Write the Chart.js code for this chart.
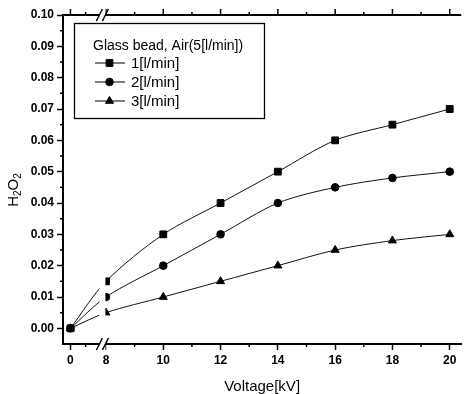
<!DOCTYPE html>
<html>
<head>
<meta charset="utf-8">
<script src="https://cdn.jsdelivr.net/npm/chart.js@4"></script>
<style>
  html, body { margin: 0; padding: 0; background: #fff; }
  #wrap { width: 467px; height: 394px; }
</style>
</head>
<body>
<div id="wrap"><canvas id="chart" width="467" height="394"></canvas></div>
<script>
// voltage (kV) and H2O2 readings for each flow rate
const voltages = [0, 8, 10, 12, 14, 16, 18, 20];
const flow1 = [0, 0.015, 0.030, 0.040, 0.050, 0.060, 0.065, 0.070];
const flow2 = [0, 0.010, 0.020, 0.030, 0.040, 0.045, 0.048, 0.050];
const flow3 = [0, 0.005, 0.010, 0.015, 0.020, 0.025, 0.028, 0.030];

const seriesNames = ['1[l/min]', '2[l/min]', '3[l/min]'];
const legendTitle = 'Glass bead, Air(5[l/min])';

const xTickLabels = ['0', '8', '10', '12', '14', '16', '18', '20'];
const yTickValues = [0, 0.01, 0.02, 0.03, 0.04, 0.05, 0.06, 0.07, 0.08, 0.09, 0.10];
const yTickLabels = ['0.00', '0.01', '0.02', '0.03', '0.04', '0.05', '0.06', '0.07', '0.08', '0.09', '0.10'];

// the axis is broken between 0 and 8, so 0 sits just left of 8
const ZERO_AT = 6.76;
function axisPos(v) {
    return v === 0 ? ZERO_AT : v;
}

function points(values) {
    return voltages.map((v, i) => ({ x: axisPos(v), y: values[i] }));
}

const xMinor = [7.29, 9, 11, 13, 15, 17, 19];
const yMinor = [0.005, 0.015, 0.025, 0.035, 0.045, 0.055, 0.065, 0.075, 0.085, 0.095];

const FONT = '"Liberation Sans", Arial, sans-serif';
Chart.defaults.font.family = FONT;
Chart.defaults.color = '#000';

// top axis, minor ticks and the "//" break marks
const axisDecor = {
    id: 'axisDecor',
    afterDatasetsDraw(chart) {
        const { ctx, chartArea: a, scales: { x, y } } = chart;
        ctx.save();
        ctx.strokeStyle = '#000';

        ctx.lineWidth = 2;
        ctx.beginPath();
        ctx.moveTo(a.left - 1, a.top);
        ctx.lineTo(a.right, a.top);
        ctx.stroke();

        ctx.lineWidth = 1.5;
        ctx.beginPath();
        voltages.forEach(v => {
            const px = x.getPixelForValue(axisPos(v));
            ctx.moveTo(px, a.top);
            ctx.lineTo(px, a.top - 6);
        });
        xMinor.forEach(v => {
            const px = x.getPixelForValue(v);
            ctx.moveTo(px, a.top);
            ctx.lineTo(px, a.top - 3);
            ctx.moveTo(px, a.bottom);
            ctx.lineTo(px, a.bottom + 3);
        });
        yMinor.forEach(v => {
            const py = y.getPixelForValue(v);
            ctx.moveTo(a.left, py);
            ctx.lineTo(a.left - 3, py);
        });
        ctx.stroke();

        // white gap for the axis break
        const b0 = x.getPixelForValue(7.77);
        const b1 = x.getPixelForValue(7.98);
        ctx.fillStyle = '#fff';
        ctx.fillRect(b0, a.top - 8, b1 - b0, a.bottom - a.top + 16);

        ctx.lineWidth = 1.5;
        ctx.beginPath();
        [a.top, a.bottom].forEach(yy => {
            [b0, b1].forEach(xx => {
                ctx.moveTo(xx - 3, yy + 6);
                ctx.lineTo(xx + 3, yy - 6);
            });
        });
        ctx.stroke();

        // y axis title with subscripts
        ctx.translate(18, 190);
        ctx.rotate(-Math.PI / 2);
        ctx.fillStyle = '#000';
        ctx.textBaseline = 'alphabetic';
        const parts = [['H', 15, 0], ['2', 10, 3], ['O', 15, 0], ['2', 10, 3]];
        let total = 0;
        parts.forEach(p => {
            ctx.font = p[1] + 'px ' + FONT;
            total += ctx.measureText(p[0]).width;
        });
        let cx = -total / 2;
        parts.forEach(p => {
            ctx.font = p[1] + 'px ' + FONT;
            ctx.fillText(p[0], cx, p[2]);
            cx += ctx.measureText(p[0]).width;
        });
        ctx.restore();
    }
};

// boxed legend in the upper left of the plot
const boxLegend = {
    id: 'boxLegend',
    afterDraw(chart) {
        const ctx = chart.ctx;
        ctx.save();
        ctx.fillStyle = '#fff';
        ctx.fillRect(74, 23, 190, 95);
        ctx.strokeStyle = '#000';
        ctx.lineWidth = 1.3;
        ctx.strokeRect(74.5, 23.5, 190, 95);

        ctx.fillStyle = '#000';
        ctx.font = '14px ' + FONT;
        ctx.textBaseline = 'middle';
        ctx.fillText(legendTitle, 93, 46);

        ctx.font = '15px ' + FONT;
        chart.data.datasets.forEach((ds, i) => {
            const yy = 63 + i * 19;
            ctx.strokeStyle = '#000';
            ctx.lineWidth = 1;
            ctx.beginPath();
            ctx.moveTo(95, yy);
            ctx.lineTo(125, yy);
            ctx.stroke();
            ctx.fillStyle = '#000';
            Chart.helpers.drawPoint(ctx, {
                pointStyle: ds.pointStyle,
                radius: ds.pointRadius,
                rotation: 0,
                borderWidth: 1
            }, 109.5, yy);
            ctx.fillText(ds.label, 131, yy + 1);
        });
        ctx.restore();
    }
};

function makeSeries(label, values, style, radius) {
    return {
        label: label,
        data: points(values),
        borderColor: '#111',
        borderWidth: 1,
        backgroundColor: '#000',
        pointStyle: style,
        pointRadius: radius,
        pointBorderWidth: 1,
        pointBackgroundColor: '#000',
        pointBorderColor: '#000',
        tension: 0.3,
        fill: false
    };
}

new Chart(document.getElementById('chart').getContext('2d'), {
    type: 'line',
    data: {
        datasets: [
            makeSeries(seriesNames[0], flow1, 'rect', 4.8),
            makeSeries(seriesNames[1], flow2, 'circle', 3.8),
            makeSeries(seriesNames[2], flow3, 'triangle', 4.6)
        ]
    },
    options: {
        responsive: false,
        animation: false,
        layout: { padding: { top: 15, right: 0, left: 0, bottom: 0 } },
        plugins: {
            legend: { display: false },
            tooltip: { enabled: false }
        },
        scales: {
            x: {
                type: 'linear',
                min: 6.5,
                max: 20.4,
                afterBuildTicks: scale => {
                    scale.ticks = voltages.map(v => ({ value: axisPos(v) }));
                },
                afterFit: scale => { scale.height = 50; },
                ticks: {
                    autoSkip: false,
                    maxRotation: 0,
                    padding: 3,
                    font: { size: 12, weight: 'bold' },
                    callback: (val, i) => xTickLabels[i]
                },
                grid: {
                    drawOnChartArea: false,
                    tickLength: 6,
                    tickWidth: 1.5,
                    tickColor: '#000'
                },
                border: { display: true, color: '#000', width: 2 },
                title: {
                    display: true,
                    text: 'Voltage[kV]',
                    font: { size: 15, lineHeight: 1 },
                    padding: 0
                }
            },
            y: {
                min: -0.005,
                max: 0.10,
                afterBuildTicks: scale => {
                    scale.ticks = yTickValues.map(v => ({ value: v }));
                },
                afterFit: scale => { scale.width = 63; },
                ticks: {
                    autoSkip: false,
                    padding: 3,
                    font: { size: 12, weight: 'bold' },
                    callback: (val, i) => yTickLabels[i]
                },
                grid: {
                    drawOnChartArea: false,
                    tickLength: 6,
                    tickWidth: 1.5,
                    tickColor: '#000'
                },
                border: { display: true, color: '#000', width: 2 }
            }
        }
    },
    plugins: [axisDecor, boxLegend]
});
</script>
</body>
</html>
